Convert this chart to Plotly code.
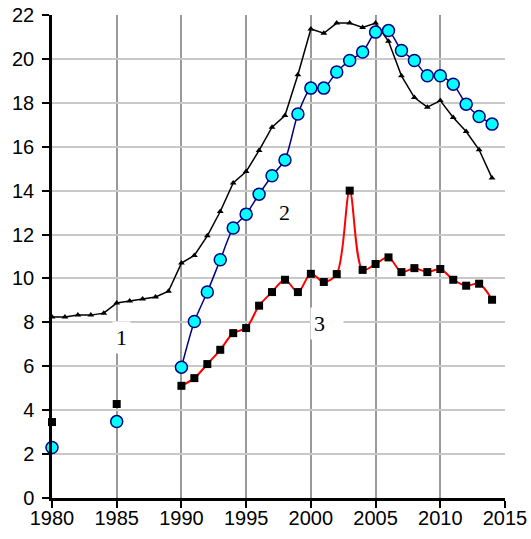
import plotly.graph_objects as go

years1 = list(range(1980, 2015))
series1 = [8.24, 8.24, 8.33, 8.33, 8.42, 8.88, 8.97, 9.06, 9.16, 9.42,
           10.70, 11.05, 11.94, 13.05, 14.35, 14.87, 15.83, 16.89, 17.42, 19.28,
           21.36, 21.17, 21.63, 21.63, 21.43, 21.63, 20.80, 19.23, 18.24, 17.80,
           18.10, 17.33, 16.69, 15.86, 14.57]

years23 = [1980, 1985] + list(range(1990, 2015))
series2 = [2.30, 3.48,
           5.96, 8.04, 9.38, 10.85, 12.30, 12.93, 13.84, 14.68, 15.40, 17.49,
           18.67, 18.67, 19.40, 19.93, 20.31, 21.22, 21.29, 20.38, 19.93, 19.23,
           19.23, 18.85, 17.94, 17.38, 17.03]
series3 = [3.46, 4.28,
           5.11, 5.46, 6.10, 6.75, 7.51, 7.74, 8.76, 9.38, 9.94, 9.38,
           10.21, 9.84, 10.20, 14.00, 10.39, 10.66, 10.96, 10.29, 10.47, 10.29,
           10.43, 9.94, 9.67, 9.76, 9.03]

labels = ["1", "2", "3"]
label_x = [1985.4, 1998.0, 2000.5]
label_y = [7.3, 13.0, 7.95]

xticks = [1980, 1985, 1990, 1995, 2000, 2005, 2010, 2015]
yticks = list(range(0, 23, 2))

fig = go.Figure()

# series 1: black line with triangles
fig.add_trace(go.Scatter(
    x=years1, y=series1, mode="lines+markers",
    line=dict(color="black", width=1.5),
    marker=dict(symbol="triangle-up", size=6, color="black"),
    showlegend=False, cliponaxis=False))

# series 3: red spline with black squares
fig.add_trace(go.Scatter(
    x=years23[2:], y=series3[2:], mode="lines",
    line=dict(color="red", width=2, shape="spline", smoothing=0.9),
    showlegend=False, cliponaxis=False))
fig.add_trace(go.Scatter(
    x=years23, y=series3, mode="markers",
    marker=dict(symbol="square", size=8, color="black"),
    showlegend=False, cliponaxis=False))

# series 2: navy spline with cyan circles
fig.add_trace(go.Scatter(
    x=years23[2:], y=series2[2:], mode="lines",
    line=dict(color="#000080", width=1.5, shape="spline", smoothing=0.7),
    showlegend=False, cliponaxis=False))
fig.add_trace(go.Scatter(
    x=years23, y=series2, mode="markers",
    marker=dict(symbol="circle", size=12, color="#00ffff",
                line=dict(color="#000080", width=1.5)),
    showlegend=False, cliponaxis=False))

annotations = []
for t, ax_, ay_ in zip(labels, label_x, label_y):
    ann = dict(x=ax_, y=ay_, xref="x", yref="y", text=t, showarrow=False,
               font=dict(family="Liberation Serif, Times New Roman, serif", size=22, color="black"),
               bgcolor="white", borderpad=3)
    if t == "3":
        ann.update(width=26, align="left", xanchor="left", x=ax_ - 0.55)
    annotations.append(ann)

fig.update_layout(
    width=531, height=539,
    margin=dict(l=52, r=26, t=15, b=41, autoexpand=False),
    paper_bgcolor="white", plot_bgcolor="white",
    font=dict(family="Liberation Sans, Arial, sans-serif", size=20, color="black"),
    annotations=annotations,
    xaxis=dict(range=[1980, 2015], tickvals=xticks, ticks="outside", ticklen=7,
               tickwidth=2, tickcolor="black", automargin=False,
               tickfont=dict(size=20), ticklabeloverflow="allow",
               ticklabelstandoff=-7,
               showgrid=True, gridcolor="#9a9a9a", gridwidth=2,
               showline=True, linecolor="black", linewidth=2.5, zeroline=False),
    yaxis=dict(range=[0, 22], tickvals=yticks, ticks="outside", ticklen=7,
               tickwidth=2, tickcolor="black", automargin=False,
               tickfont=dict(size=20), ticklabelstandoff=4,
               ticklabeloverflow="allow",
               showgrid=True, gridcolor="#c8c8c8", gridwidth=2,
               showline=True, linecolor="black", linewidth=2.5, zeroline=False),
)

fig.write_html("out.html",
               config={"displayModeBar": False},
               post_script="document.body.style.margin='0';document.body.style.overflow='hidden';")
